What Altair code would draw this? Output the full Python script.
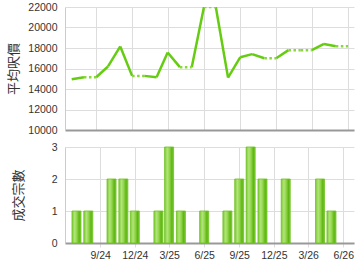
import altair as alt
import pandas as pd

months = ["2024-07", "2024-08", "2024-09", "2024-10", "2024-11", "2024-12",
          "2025-01", "2025-02", "2025-03", "2025-04", "2025-05", "2025-06",
          "2025-07", "2025-08", "2025-09", "2025-10", "2025-11", "2025-12",
          "2026-01", "2026-02", "2026-03", "2026-04", "2026-05", "2026-06"]
prices = [14950, 15150, 15150, 16200, 18150, 15280,
          15280, 15150, 17560, 16130, 16130, 22000,
          22000, 15110, 17100, 17400, 17000, 17000,
          17790, 17790, 17790, 18400, 18180, 18180]
counts = [1, 1, 0, 2, 2, 1,
          0, 1, 3, 1, 0, 1,
          0, 1, 2, 3, 2, 0,
          2, 0, 0, 2, 1, 0]
tick_months = ["2024-09", "2024-12", "2025-03", "2025-06",
               "2025-09", "2025-12", "2026-03", "2026-06"]

dates = [m + "-01" for m in months]
bars = pd.DataFrame({"date": dates, "count": counts})

rows = []
for i in range(len(months) - 1):
    style = "dot" if counts[i + 1] == 0 else "solid"
    rows.append({"seg": i, "date": dates[i], "price": prices[i], "style": style})
    rows.append({"seg": i, "date": dates[i + 1], "price": prices[i + 1], "style": style})
segs = pd.DataFrame(rows)

tick_vals = [int(pd.Timestamp(m + "-01", tz="UTC").timestamp() * 1000) for m in tick_months]
xdom = [int(pd.Timestamp("2024-06-14", tz="UTC").timestamp() * 1000),
        int(pd.Timestamp("2026-06-16", tz="UTC").timestamp() * 1000)]
xscale = alt.Scale(type="utc", domain=xdom)

W = 289
LF = "Liberation Sans"
CJK = "Noto Sans CJK TC"

x_top = alt.X("date:T", scale=xscale,
              axis=alt.Axis(values=tick_vals, labels=False, ticks=False, title=None,
                            grid=True, gridColor="#dddddd", domainColor="#999999",
                            domainWidth=2, minExtent=0, maxExtent=0))
y_top = alt.Y("price:Q", scale=alt.Scale(domain=[10000, 22000], nice=False),
              axis=alt.Axis(values=list(range(10000, 22001, 2000)), title="平均呎價",
                            format="d",
                            titleFont=CJK, titleFontSize=13, titleFontWeight="normal",
                            titleColor="#333333", titlePadding=7,
                            labelFont=LF, labelFontSize=10.5, labelColor="#333333",
                            labelPadding=8, ticks=False, domainColor="#cccccc",
                            gridColor="#dddddd"))

solid = alt.Chart(segs).transform_filter(alt.datum.style == "solid").mark_line(
    color="#66cc11", strokeWidth=2.5, clip=True).encode(
    x=x_top, y=y_top, detail="seg:N")
dotted = alt.Chart(segs).transform_filter(alt.datum.style == "dot").mark_line(
    color="#88d838", strokeWidth=2.5, strokeDash=[2.5, 2.5], clip=True).encode(
    x=x_top, y=y_top, detail="seg:N")
top = alt.layer(solid, dotted).properties(width=W, height=123)

grad = alt.LinearGradient(
    gradient="linear", x1=0, x2=1, y1=0, y2=0,
    stops=[alt.GradientStop(offset=0, color="#7ccc33"),
           alt.GradientStop(offset=0.3, color="#b2e47a"),
           alt.GradientStop(offset=0.55, color="#8fd548"),
           alt.GradientStop(offset=0.8, color="#5fb514"),
           alt.GradientStop(offset=1, color="#7ccc33")])

bottom = alt.Chart(bars).transform_filter(alt.datum.count > 0).mark_bar(
    width=9, fill=grad, stroke="#6cc01e", strokeWidth=0.8).encode(
    x=alt.X("date:T", scale=xscale,
            axis=alt.Axis(values=tick_vals, title=None,
                          labelExpr="utcFormat(datum.value, '%-m/%y')",
                          labelFont=LF, labelFontSize=10.5, labelColor="#333333",
                          labelPadding=3, ticks=True, tickSize=4, tickColor="#dddddd",
                          grid=True, gridColor="#dddddd", domainColor="#999999",
                          domainWidth=2)),
    y=alt.Y("count:Q", scale=alt.Scale(domain=[0, 3], nice=False),
            axis=alt.Axis(values=[0, 1, 2, 3], title="成交宗數",
                          titleFont=CJK, titleFontSize=13, titleFontWeight="normal",
                          titleColor="#333333", titlePadding=26,
                          labelFont=LF, labelFontSize=10.5, labelColor="#333333",
                          labelPadding=8, ticks=False, domainColor="#cccccc",
                          gridColor="#dddddd")),
).properties(width=W, height=96)

chart = alt.vconcat(top, bottom, spacing=6).properties(
    padding={"left": 7, "top": 2, "right": 3, "bottom": 5},
    background="white",
).configure_view(strokeWidth=0)

chart.save("out.html", embed_options={"renderer": "svg", "actions": False})
